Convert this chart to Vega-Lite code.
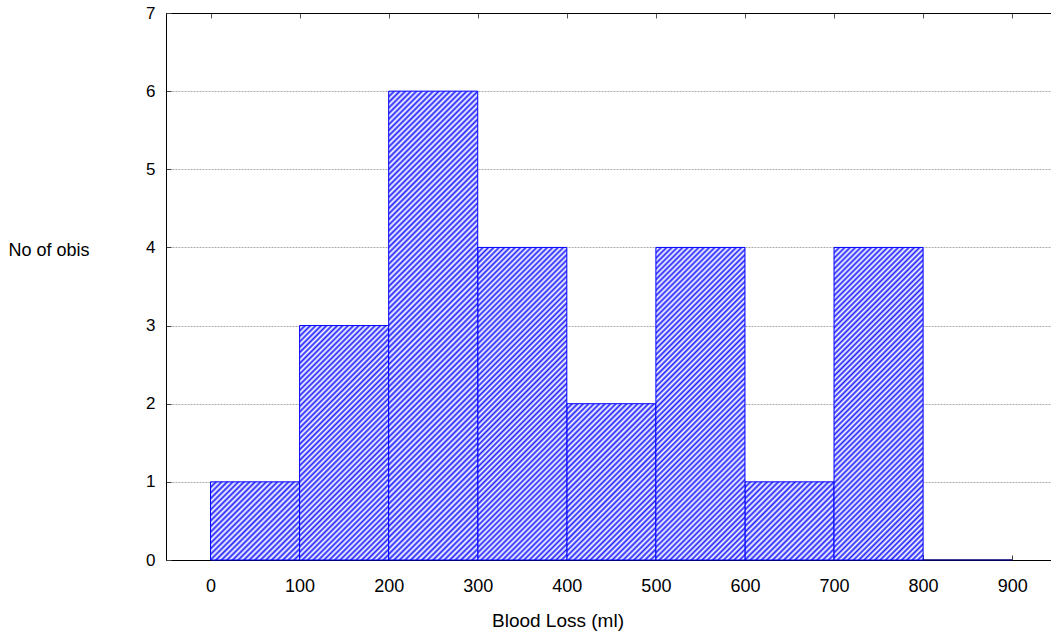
{
  "$schema": "https://vega.github.io/schema/vega-lite/v6.json",
  "autosize": "none",
  "width": 885,
  "height": 547,
  "padding": {"left": 166, "top": 13, "right": 0, "bottom": 76},
  "background": "white",
  "config": {"font": "Liberation Sans", "view": {"stroke": null}},
  "data": {"values": [
    {"start": 0, "end": 100, "count": 1},
    {"start": 100, "end": 200, "count": 3},
    {"start": 200, "end": 300, "count": 6},
    {"start": 300, "end": 400, "count": 4},
    {"start": 400, "end": 500, "count": 2},
    {"start": 500, "end": 600, "count": 4},
    {"start": 600, "end": 700, "count": 1},
    {"start": 700, "end": 800, "count": 4},
    {"start": 800, "end": 900, "count": 0}
  ]},
  "encoding": {
    "y": {"field": "count", "type": "quantitative", "scale": {"domain": [0, 7], "nice": false, "padding": 0},
      "axis": {"values": [0, 1, 2, 3, 4, 5, 6, 7], "grid": true, "gridColor": "#aaaaaa", "gridDash": [2, 1], "domainColor": "#000", "tickColor": "#444", "tickSize": -5, "labelPadding": 16, "labelFontSize": 17, "labelColor": "#000", "title": "No of obis", "titleAngle": 0, "titleAlign": "left", "titleBaseline": "middle", "titleX": -158, "titleY": 237, "titleFontSize": 18, "titleFontWeight": "normal", "titleColor": "#000"}},
    "y2": {"datum": 0}
  },
  "resolve": {"axis": {"x": "independent"}},
  "layer": [
    {
      "transform": [{"filter": "datum.count == 0"}],
      "mark": {"type": "bar", "fill": "#00007a", "stroke": "#00007a", "strokeWidth": 1.5},
      "encoding": {
        "x": {"field": "start", "type": "quantitative", "scale": {"domain": [-50, 943.6], "nice": false, "zero": false, "padding": 0},
          "axis": {"orient": "top", "values": [0, 100, 200, 300, 400, 500, 600, 700, 800, 900], "domainColor": "#000", "tickColor": "#555", "tickSize": -5, "labels": false, "title": null, "grid": false}},
        "x2": {"field": "end"}
      }
    },
    {
      "transform": [{"filter": "datum.count == 1"}],
      "mark": {"type": "bar", "stroke": "#00f", "strokeWidth": 1, "fill": {"gradient": "linear", "x1": 0, "y1": 0, "x2": 1.0608, "y2": 0.9307, "stops": [
        {"offset":0,"color":"#22f"},{"offset":0.017,"color":"#fff"},{"offset":0.033,"color":"#22f"},{"offset":0.05,"color":"#fff"},{"offset":0.067,"color":"#22f"},{"offset":0.083,"color":"#fff"},
        {"offset":0.1,"color":"#22f"},{"offset":0.117,"color":"#fff"},{"offset":0.133,"color":"#22f"},{"offset":0.15,"color":"#fff"},{"offset":0.167,"color":"#22f"},{"offset":0.183,"color":"#fff"},
        {"offset":0.2,"color":"#22f"},{"offset":0.217,"color":"#fff"},{"offset":0.233,"color":"#22f"},{"offset":0.25,"color":"#fff"},{"offset":0.267,"color":"#22f"},{"offset":0.283,"color":"#fff"},
        {"offset":0.3,"color":"#22f"},{"offset":0.317,"color":"#fff"},{"offset":0.333,"color":"#22f"},{"offset":0.35,"color":"#fff"},{"offset":0.367,"color":"#22f"},{"offset":0.383,"color":"#fff"},
        {"offset":0.4,"color":"#22f"},{"offset":0.417,"color":"#fff"},{"offset":0.433,"color":"#22f"},{"offset":0.45,"color":"#fff"},{"offset":0.467,"color":"#22f"},{"offset":0.483,"color":"#fff"},
        {"offset":0.5,"color":"#22f"},{"offset":0.517,"color":"#fff"},{"offset":0.533,"color":"#22f"},{"offset":0.55,"color":"#fff"},{"offset":0.567,"color":"#22f"},{"offset":0.583,"color":"#fff"},
        {"offset":0.6,"color":"#22f"},{"offset":0.617,"color":"#fff"},{"offset":0.633,"color":"#22f"},{"offset":0.65,"color":"#fff"},{"offset":0.667,"color":"#22f"},{"offset":0.683,"color":"#fff"},
        {"offset":0.7,"color":"#22f"},{"offset":0.717,"color":"#fff"},{"offset":0.733,"color":"#22f"},{"offset":0.75,"color":"#fff"},{"offset":0.767,"color":"#22f"},{"offset":0.783,"color":"#fff"},
        {"offset":0.8,"color":"#22f"},{"offset":0.817,"color":"#fff"},{"offset":0.833,"color":"#22f"},{"offset":0.85,"color":"#fff"},{"offset":0.867,"color":"#22f"},{"offset":0.883,"color":"#fff"},
        {"offset":0.9,"color":"#22f"},{"offset":0.917,"color":"#fff"},{"offset":0.933,"color":"#22f"},{"offset":0.95,"color":"#fff"},{"offset":0.967,"color":"#22f"},{"offset":0.983,"color":"#fff"},
        {"offset":1,"color":"#22f"}]}},
      "encoding": {
        "x": {"field": "start", "type": "quantitative", "scale": {"domain": [-50, 943.6], "nice": false, "zero": false, "padding": 0},
          "axis": {"orient": "bottom", "values": [0, 100, 200, 300, 400, 500, 600, 700, 800, 900], "domainColor": "#000", "tickColor": "#444", "tickSize": -5, "labelPadding": 36.5, "labelBaseline": "alphabetic", "labelFontSize": 18, "labelColor": "#000", "labelFlush": false, "labelOverlap": false, "grid": false, "title": "Blood Loss (ml)", "titleX": 391.5, "titleY": 66, "titleAlign": "center", "titleBaseline": "alphabetic", "titleFontSize": 19, "titleFontWeight": "normal", "titleColor": "#000"}},
        "x2": {"field": "end"}
      }
    },
    {
      "transform": [{"filter": "datum.count == 2"}],
      "mark": {"type": "bar", "stroke": "#00f", "strokeWidth": 1, "fill": {"gradient": "linear", "x1": 0, "y1": 0, "x2": 0.6754, "y2": 1.185, "stops": [
        {"offset":0,"color":"#22f"},{"offset":0.011,"color":"#fff"},{"offset":0.022,"color":"#22f"},{"offset":0.033,"color":"#fff"},{"offset":0.044,"color":"#22f"},{"offset":0.056,"color":"#fff"},{"offset":0.067,"color":"#22f"},{"offset":0.078,"color":"#fff"},{"offset":0.089,"color":"#22f"},
        {"offset":0.1,"color":"#fff"},{"offset":0.111,"color":"#22f"},{"offset":0.122,"color":"#fff"},{"offset":0.133,"color":"#22f"},{"offset":0.144,"color":"#fff"},{"offset":0.156,"color":"#22f"},{"offset":0.167,"color":"#fff"},{"offset":0.178,"color":"#22f"},{"offset":0.189,"color":"#fff"},
        {"offset":0.2,"color":"#22f"},{"offset":0.211,"color":"#fff"},{"offset":0.222,"color":"#22f"},{"offset":0.233,"color":"#fff"},{"offset":0.244,"color":"#22f"},{"offset":0.256,"color":"#fff"},{"offset":0.267,"color":"#22f"},{"offset":0.278,"color":"#fff"},{"offset":0.289,"color":"#22f"},
        {"offset":0.3,"color":"#fff"},{"offset":0.311,"color":"#22f"},{"offset":0.322,"color":"#fff"},{"offset":0.333,"color":"#22f"},{"offset":0.344,"color":"#fff"},{"offset":0.356,"color":"#22f"},{"offset":0.367,"color":"#fff"},{"offset":0.378,"color":"#22f"},{"offset":0.389,"color":"#fff"},
        {"offset":0.4,"color":"#22f"},{"offset":0.411,"color":"#fff"},{"offset":0.422,"color":"#22f"},{"offset":0.433,"color":"#fff"},{"offset":0.444,"color":"#22f"},{"offset":0.456,"color":"#fff"},{"offset":0.467,"color":"#22f"},{"offset":0.478,"color":"#fff"},{"offset":0.489,"color":"#22f"},
        {"offset":0.5,"color":"#fff"},{"offset":0.511,"color":"#22f"},{"offset":0.522,"color":"#fff"},{"offset":0.533,"color":"#22f"},{"offset":0.544,"color":"#fff"},{"offset":0.556,"color":"#22f"},{"offset":0.567,"color":"#fff"},{"offset":0.578,"color":"#22f"},{"offset":0.589,"color":"#fff"},
        {"offset":0.6,"color":"#22f"},{"offset":0.611,"color":"#fff"},{"offset":0.622,"color":"#22f"},{"offset":0.633,"color":"#fff"},{"offset":0.644,"color":"#22f"},{"offset":0.656,"color":"#fff"},{"offset":0.667,"color":"#22f"},{"offset":0.678,"color":"#fff"},{"offset":0.689,"color":"#22f"},
        {"offset":0.7,"color":"#fff"},{"offset":0.711,"color":"#22f"},{"offset":0.722,"color":"#fff"},{"offset":0.733,"color":"#22f"},{"offset":0.744,"color":"#fff"},{"offset":0.756,"color":"#22f"},{"offset":0.767,"color":"#fff"},{"offset":0.778,"color":"#22f"},{"offset":0.789,"color":"#fff"},
        {"offset":0.8,"color":"#22f"},{"offset":0.811,"color":"#fff"},{"offset":0.822,"color":"#22f"},{"offset":0.833,"color":"#fff"},{"offset":0.844,"color":"#22f"},{"offset":0.856,"color":"#fff"},{"offset":0.867,"color":"#22f"},{"offset":0.878,"color":"#fff"},{"offset":0.889,"color":"#22f"},
        {"offset":0.9,"color":"#fff"},{"offset":0.911,"color":"#22f"},{"offset":0.922,"color":"#fff"},{"offset":0.933,"color":"#22f"},{"offset":0.944,"color":"#fff"},{"offset":0.956,"color":"#22f"},{"offset":0.967,"color":"#fff"},{"offset":0.978,"color":"#22f"},{"offset":0.989,"color":"#fff"},
        {"offset":1,"color":"#22f"}]}},
      "encoding": {
        "x": {"field": "start", "type": "quantitative", "scale": {"domain": [-50, 943.6], "nice": false, "zero": false, "padding": 0}, "axis": null},
        "x2": {"field": "end"}
      }
    },
    {
      "transform": [{"filter": "datum.count == 3"}],
      "mark": {"type": "bar", "stroke": "#00f", "strokeWidth": 1, "fill": {"gradient": "linear", "x1": 0, "y1": 0, "x2": 0.4582, "y2": 1.2059, "stops": [
        {"offset":0,"color":"#22f"},{"offset":0.008,"color":"#fff"},{"offset":0.017,"color":"#22f"},{"offset":0.025,"color":"#fff"},{"offset":0.033,"color":"#22f"},{"offset":0.042,"color":"#fff"},{"offset":0.05,"color":"#22f"},{"offset":0.058,"color":"#fff"},{"offset":0.067,"color":"#22f"},{"offset":0.075,"color":"#fff"},{"offset":0.083,"color":"#22f"},{"offset":0.092,"color":"#fff"},
        {"offset":0.1,"color":"#22f"},{"offset":0.108,"color":"#fff"},{"offset":0.117,"color":"#22f"},{"offset":0.125,"color":"#fff"},{"offset":0.133,"color":"#22f"},{"offset":0.142,"color":"#fff"},{"offset":0.15,"color":"#22f"},{"offset":0.158,"color":"#fff"},{"offset":0.167,"color":"#22f"},{"offset":0.175,"color":"#fff"},{"offset":0.183,"color":"#22f"},{"offset":0.192,"color":"#fff"},
        {"offset":0.2,"color":"#22f"},{"offset":0.208,"color":"#fff"},{"offset":0.217,"color":"#22f"},{"offset":0.225,"color":"#fff"},{"offset":0.233,"color":"#22f"},{"offset":0.242,"color":"#fff"},{"offset":0.25,"color":"#22f"},{"offset":0.258,"color":"#fff"},{"offset":0.267,"color":"#22f"},{"offset":0.275,"color":"#fff"},{"offset":0.283,"color":"#22f"},{"offset":0.292,"color":"#fff"},
        {"offset":0.3,"color":"#22f"},{"offset":0.308,"color":"#fff"},{"offset":0.317,"color":"#22f"},{"offset":0.325,"color":"#fff"},{"offset":0.333,"color":"#22f"},{"offset":0.342,"color":"#fff"},{"offset":0.35,"color":"#22f"},{"offset":0.358,"color":"#fff"},{"offset":0.367,"color":"#22f"},{"offset":0.375,"color":"#fff"},{"offset":0.383,"color":"#22f"},{"offset":0.392,"color":"#fff"},
        {"offset":0.4,"color":"#22f"},{"offset":0.408,"color":"#fff"},{"offset":0.417,"color":"#22f"},{"offset":0.425,"color":"#fff"},{"offset":0.433,"color":"#22f"},{"offset":0.442,"color":"#fff"},{"offset":0.45,"color":"#22f"},{"offset":0.458,"color":"#fff"},{"offset":0.467,"color":"#22f"},{"offset":0.475,"color":"#fff"},{"offset":0.483,"color":"#22f"},{"offset":0.492,"color":"#fff"},
        {"offset":0.5,"color":"#22f"},{"offset":0.508,"color":"#fff"},{"offset":0.517,"color":"#22f"},{"offset":0.525,"color":"#fff"},{"offset":0.533,"color":"#22f"},{"offset":0.542,"color":"#fff"},{"offset":0.55,"color":"#22f"},{"offset":0.558,"color":"#fff"},{"offset":0.567,"color":"#22f"},{"offset":0.575,"color":"#fff"},{"offset":0.583,"color":"#22f"},{"offset":0.592,"color":"#fff"},
        {"offset":0.6,"color":"#22f"},{"offset":0.608,"color":"#fff"},{"offset":0.617,"color":"#22f"},{"offset":0.625,"color":"#fff"},{"offset":0.633,"color":"#22f"},{"offset":0.642,"color":"#fff"},{"offset":0.65,"color":"#22f"},{"offset":0.658,"color":"#fff"},{"offset":0.667,"color":"#22f"},{"offset":0.675,"color":"#fff"},{"offset":0.683,"color":"#22f"},{"offset":0.692,"color":"#fff"},
        {"offset":0.7,"color":"#22f"},{"offset":0.708,"color":"#fff"},{"offset":0.717,"color":"#22f"},{"offset":0.725,"color":"#fff"},{"offset":0.733,"color":"#22f"},{"offset":0.742,"color":"#fff"},{"offset":0.75,"color":"#22f"},{"offset":0.758,"color":"#fff"},{"offset":0.767,"color":"#22f"},{"offset":0.775,"color":"#fff"},{"offset":0.783,"color":"#22f"},{"offset":0.792,"color":"#fff"},
        {"offset":0.8,"color":"#22f"},{"offset":0.808,"color":"#fff"},{"offset":0.817,"color":"#22f"},{"offset":0.825,"color":"#fff"},{"offset":0.833,"color":"#22f"},{"offset":0.842,"color":"#fff"},{"offset":0.85,"color":"#22f"},{"offset":0.858,"color":"#fff"},{"offset":0.867,"color":"#22f"},{"offset":0.875,"color":"#fff"},{"offset":0.883,"color":"#22f"},{"offset":0.892,"color":"#fff"},
        {"offset":0.9,"color":"#22f"},{"offset":0.908,"color":"#fff"},{"offset":0.917,"color":"#22f"},{"offset":0.925,"color":"#fff"},{"offset":0.933,"color":"#22f"},{"offset":0.942,"color":"#fff"},{"offset":0.95,"color":"#22f"},{"offset":0.958,"color":"#fff"},{"offset":0.967,"color":"#22f"},{"offset":0.975,"color":"#fff"},{"offset":0.983,"color":"#22f"},{"offset":0.992,"color":"#fff"},
        {"offset":1,"color":"#22f"}]}},
      "encoding": {
        "x": {"field": "start", "type": "quantitative", "scale": {"domain": [-50, 943.6], "nice": false, "zero": false, "padding": 0}, "axis": null},
        "x2": {"field": "end"}
      }
    },
    {
      "transform": [{"filter": "datum.count == 4"}],
      "mark": {"type": "bar", "stroke": "#00f", "strokeWidth": 1, "fill": {"gradient": "linear", "x1": 0, "y1": 0, "x2": 0.3387, "y2": 1.1885, "stops": [
        {"offset":0,"color":"#22f"},{"offset":0.007,"color":"#fff"},{"offset":0.013,"color":"#22f"},{"offset":0.02,"color":"#fff"},{"offset":0.027,"color":"#22f"},{"offset":0.033,"color":"#fff"},{"offset":0.04,"color":"#22f"},{"offset":0.047,"color":"#fff"},{"offset":0.053,"color":"#22f"},{"offset":0.06,"color":"#fff"},{"offset":0.067,"color":"#22f"},{"offset":0.073,"color":"#fff"},{"offset":0.08,"color":"#22f"},{"offset":0.087,"color":"#fff"},{"offset":0.093,"color":"#22f"},
        {"offset":0.1,"color":"#fff"},{"offset":0.107,"color":"#22f"},{"offset":0.113,"color":"#fff"},{"offset":0.12,"color":"#22f"},{"offset":0.127,"color":"#fff"},{"offset":0.133,"color":"#22f"},{"offset":0.14,"color":"#fff"},{"offset":0.147,"color":"#22f"},{"offset":0.153,"color":"#fff"},{"offset":0.16,"color":"#22f"},{"offset":0.167,"color":"#fff"},{"offset":0.173,"color":"#22f"},{"offset":0.18,"color":"#fff"},{"offset":0.187,"color":"#22f"},{"offset":0.193,"color":"#fff"},
        {"offset":0.2,"color":"#22f"},{"offset":0.207,"color":"#fff"},{"offset":0.213,"color":"#22f"},{"offset":0.22,"color":"#fff"},{"offset":0.227,"color":"#22f"},{"offset":0.233,"color":"#fff"},{"offset":0.24,"color":"#22f"},{"offset":0.247,"color":"#fff"},{"offset":0.253,"color":"#22f"},{"offset":0.26,"color":"#fff"},{"offset":0.267,"color":"#22f"},{"offset":0.273,"color":"#fff"},{"offset":0.28,"color":"#22f"},{"offset":0.287,"color":"#fff"},{"offset":0.293,"color":"#22f"},
        {"offset":0.3,"color":"#fff"},{"offset":0.307,"color":"#22f"},{"offset":0.313,"color":"#fff"},{"offset":0.32,"color":"#22f"},{"offset":0.327,"color":"#fff"},{"offset":0.333,"color":"#22f"},{"offset":0.34,"color":"#fff"},{"offset":0.347,"color":"#22f"},{"offset":0.353,"color":"#fff"},{"offset":0.36,"color":"#22f"},{"offset":0.367,"color":"#fff"},{"offset":0.373,"color":"#22f"},{"offset":0.38,"color":"#fff"},{"offset":0.387,"color":"#22f"},{"offset":0.393,"color":"#fff"},
        {"offset":0.4,"color":"#22f"},{"offset":0.407,"color":"#fff"},{"offset":0.413,"color":"#22f"},{"offset":0.42,"color":"#fff"},{"offset":0.427,"color":"#22f"},{"offset":0.433,"color":"#fff"},{"offset":0.44,"color":"#22f"},{"offset":0.447,"color":"#fff"},{"offset":0.453,"color":"#22f"},{"offset":0.46,"color":"#fff"},{"offset":0.467,"color":"#22f"},{"offset":0.473,"color":"#fff"},{"offset":0.48,"color":"#22f"},{"offset":0.487,"color":"#fff"},{"offset":0.493,"color":"#22f"},
        {"offset":0.5,"color":"#fff"},{"offset":0.507,"color":"#22f"},{"offset":0.513,"color":"#fff"},{"offset":0.52,"color":"#22f"},{"offset":0.527,"color":"#fff"},{"offset":0.533,"color":"#22f"},{"offset":0.54,"color":"#fff"},{"offset":0.547,"color":"#22f"},{"offset":0.553,"color":"#fff"},{"offset":0.56,"color":"#22f"},{"offset":0.567,"color":"#fff"},{"offset":0.573,"color":"#22f"},{"offset":0.58,"color":"#fff"},{"offset":0.587,"color":"#22f"},{"offset":0.593,"color":"#fff"},
        {"offset":0.6,"color":"#22f"},{"offset":0.607,"color":"#fff"},{"offset":0.613,"color":"#22f"},{"offset":0.62,"color":"#fff"},{"offset":0.627,"color":"#22f"},{"offset":0.633,"color":"#fff"},{"offset":0.64,"color":"#22f"},{"offset":0.647,"color":"#fff"},{"offset":0.653,"color":"#22f"},{"offset":0.66,"color":"#fff"},{"offset":0.667,"color":"#22f"},{"offset":0.673,"color":"#fff"},{"offset":0.68,"color":"#22f"},{"offset":0.687,"color":"#fff"},{"offset":0.693,"color":"#22f"},
        {"offset":0.7,"color":"#fff"},{"offset":0.707,"color":"#22f"},{"offset":0.713,"color":"#fff"},{"offset":0.72,"color":"#22f"},{"offset":0.727,"color":"#fff"},{"offset":0.733,"color":"#22f"},{"offset":0.74,"color":"#fff"},{"offset":0.747,"color":"#22f"},{"offset":0.753,"color":"#fff"},{"offset":0.76,"color":"#22f"},{"offset":0.767,"color":"#fff"},{"offset":0.773,"color":"#22f"},{"offset":0.78,"color":"#fff"},{"offset":0.787,"color":"#22f"},{"offset":0.793,"color":"#fff"},
        {"offset":0.8,"color":"#22f"},{"offset":0.807,"color":"#fff"},{"offset":0.813,"color":"#22f"},{"offset":0.82,"color":"#fff"},{"offset":0.827,"color":"#22f"},{"offset":0.833,"color":"#fff"},{"offset":0.84,"color":"#22f"},{"offset":0.847,"color":"#fff"},{"offset":0.853,"color":"#22f"},{"offset":0.86,"color":"#fff"},{"offset":0.867,"color":"#22f"},{"offset":0.873,"color":"#fff"},{"offset":0.88,"color":"#22f"},{"offset":0.887,"color":"#fff"},{"offset":0.893,"color":"#22f"},
        {"offset":0.9,"color":"#fff"},{"offset":0.907,"color":"#22f"},{"offset":0.913,"color":"#fff"},{"offset":0.92,"color":"#22f"},{"offset":0.927,"color":"#fff"},{"offset":0.933,"color":"#22f"},{"offset":0.94,"color":"#fff"},{"offset":0.947,"color":"#22f"},{"offset":0.953,"color":"#fff"},{"offset":0.96,"color":"#22f"},{"offset":0.967,"color":"#fff"},{"offset":0.973,"color":"#22f"},{"offset":0.98,"color":"#fff"},{"offset":0.987,"color":"#22f"},{"offset":0.993,"color":"#fff"},
        {"offset":1,"color":"#22f"}]}},
      "encoding": {
        "x": {"field": "start", "type": "quantitative", "scale": {"domain": [-50, 943.6], "nice": false, "zero": false, "padding": 0}, "axis": null},
        "x2": {"field": "end"}
      }
    },
    {
      "transform": [{"filter": "datum.count == 6"}],
      "mark": {"type": "bar", "stroke": "#00f", "strokeWidth": 1, "fill": {"gradient": "linear", "x1": 0, "y1": 0, "x2": 0.2182, "y2": 1.1485, "stops": [
        {"offset":0,"color":"#22f"},{"offset":0.005,"color":"#fff"},{"offset":0.01,"color":"#22f"},{"offset":0.015,"color":"#fff"},{"offset":0.02,"color":"#22f"},{"offset":0.025,"color":"#fff"},{"offset":0.03,"color":"#22f"},{"offset":0.035,"color":"#fff"},{"offset":0.04,"color":"#22f"},{"offset":0.045,"color":"#fff"},{"offset":0.05,"color":"#22f"},{"offset":0.055,"color":"#fff"},{"offset":0.06,"color":"#22f"},{"offset":0.065,"color":"#fff"},{"offset":0.07,"color":"#22f"},{"offset":0.075,"color":"#fff"},{"offset":0.08,"color":"#22f"},{"offset":0.085,"color":"#fff"},{"offset":0.09,"color":"#22f"},{"offset":0.095,"color":"#fff"},
        {"offset":0.1,"color":"#22f"},{"offset":0.105,"color":"#fff"},{"offset":0.11,"color":"#22f"},{"offset":0.115,"color":"#fff"},{"offset":0.12,"color":"#22f"},{"offset":0.125,"color":"#fff"},{"offset":0.13,"color":"#22f"},{"offset":0.135,"color":"#fff"},{"offset":0.14,"color":"#22f"},{"offset":0.145,"color":"#fff"},{"offset":0.15,"color":"#22f"},{"offset":0.155,"color":"#fff"},{"offset":0.16,"color":"#22f"},{"offset":0.165,"color":"#fff"},{"offset":0.17,"color":"#22f"},{"offset":0.175,"color":"#fff"},{"offset":0.18,"color":"#22f"},{"offset":0.185,"color":"#fff"},{"offset":0.19,"color":"#22f"},{"offset":0.195,"color":"#fff"},
        {"offset":0.2,"color":"#22f"},{"offset":0.205,"color":"#fff"},{"offset":0.21,"color":"#22f"},{"offset":0.215,"color":"#fff"},{"offset":0.22,"color":"#22f"},{"offset":0.225,"color":"#fff"},{"offset":0.23,"color":"#22f"},{"offset":0.235,"color":"#fff"},{"offset":0.24,"color":"#22f"},{"offset":0.245,"color":"#fff"},{"offset":0.25,"color":"#22f"},{"offset":0.255,"color":"#fff"},{"offset":0.26,"color":"#22f"},{"offset":0.265,"color":"#fff"},{"offset":0.27,"color":"#22f"},{"offset":0.275,"color":"#fff"},{"offset":0.28,"color":"#22f"},{"offset":0.285,"color":"#fff"},{"offset":0.29,"color":"#22f"},{"offset":0.295,"color":"#fff"},
        {"offset":0.3,"color":"#22f"},{"offset":0.305,"color":"#fff"},{"offset":0.31,"color":"#22f"},{"offset":0.315,"color":"#fff"},{"offset":0.32,"color":"#22f"},{"offset":0.325,"color":"#fff"},{"offset":0.33,"color":"#22f"},{"offset":0.335,"color":"#fff"},{"offset":0.34,"color":"#22f"},{"offset":0.345,"color":"#fff"},{"offset":0.35,"color":"#22f"},{"offset":0.355,"color":"#fff"},{"offset":0.36,"color":"#22f"},{"offset":0.365,"color":"#fff"},{"offset":0.37,"color":"#22f"},{"offset":0.375,"color":"#fff"},{"offset":0.38,"color":"#22f"},{"offset":0.385,"color":"#fff"},{"offset":0.39,"color":"#22f"},{"offset":0.395,"color":"#fff"},
        {"offset":0.4,"color":"#22f"},{"offset":0.405,"color":"#fff"},{"offset":0.41,"color":"#22f"},{"offset":0.415,"color":"#fff"},{"offset":0.42,"color":"#22f"},{"offset":0.425,"color":"#fff"},{"offset":0.43,"color":"#22f"},{"offset":0.435,"color":"#fff"},{"offset":0.44,"color":"#22f"},{"offset":0.445,"color":"#fff"},{"offset":0.45,"color":"#22f"},{"offset":0.455,"color":"#fff"},{"offset":0.46,"color":"#22f"},{"offset":0.465,"color":"#fff"},{"offset":0.47,"color":"#22f"},{"offset":0.475,"color":"#fff"},{"offset":0.48,"color":"#22f"},{"offset":0.485,"color":"#fff"},{"offset":0.49,"color":"#22f"},{"offset":0.495,"color":"#fff"},
        {"offset":0.5,"color":"#22f"},{"offset":0.505,"color":"#fff"},{"offset":0.51,"color":"#22f"},{"offset":0.515,"color":"#fff"},{"offset":0.52,"color":"#22f"},{"offset":0.525,"color":"#fff"},{"offset":0.53,"color":"#22f"},{"offset":0.535,"color":"#fff"},{"offset":0.54,"color":"#22f"},{"offset":0.545,"color":"#fff"},{"offset":0.55,"color":"#22f"},{"offset":0.555,"color":"#fff"},{"offset":0.56,"color":"#22f"},{"offset":0.565,"color":"#fff"},{"offset":0.57,"color":"#22f"},{"offset":0.575,"color":"#fff"},{"offset":0.58,"color":"#22f"},{"offset":0.585,"color":"#fff"},{"offset":0.59,"color":"#22f"},{"offset":0.595,"color":"#fff"},
        {"offset":0.6,"color":"#22f"},{"offset":0.605,"color":"#fff"},{"offset":0.61,"color":"#22f"},{"offset":0.615,"color":"#fff"},{"offset":0.62,"color":"#22f"},{"offset":0.625,"color":"#fff"},{"offset":0.63,"color":"#22f"},{"offset":0.635,"color":"#fff"},{"offset":0.64,"color":"#22f"},{"offset":0.645,"color":"#fff"},{"offset":0.65,"color":"#22f"},{"offset":0.655,"color":"#fff"},{"offset":0.66,"color":"#22f"},{"offset":0.665,"color":"#fff"},{"offset":0.67,"color":"#22f"},{"offset":0.675,"color":"#fff"},{"offset":0.68,"color":"#22f"},{"offset":0.685,"color":"#fff"},{"offset":0.69,"color":"#22f"},{"offset":0.695,"color":"#fff"},
        {"offset":0.7,"color":"#22f"},{"offset":0.705,"color":"#fff"},{"offset":0.71,"color":"#22f"},{"offset":0.715,"color":"#fff"},{"offset":0.72,"color":"#22f"},{"offset":0.725,"color":"#fff"},{"offset":0.73,"color":"#22f"},{"offset":0.735,"color":"#fff"},{"offset":0.74,"color":"#22f"},{"offset":0.745,"color":"#fff"},{"offset":0.75,"color":"#22f"},{"offset":0.755,"color":"#fff"},{"offset":0.76,"color":"#22f"},{"offset":0.765,"color":"#fff"},{"offset":0.77,"color":"#22f"},{"offset":0.775,"color":"#fff"},{"offset":0.78,"color":"#22f"},{"offset":0.785,"color":"#fff"},{"offset":0.79,"color":"#22f"},{"offset":0.795,"color":"#fff"},
        {"offset":0.8,"color":"#22f"},{"offset":0.805,"color":"#fff"},{"offset":0.81,"color":"#22f"},{"offset":0.815,"color":"#fff"},{"offset":0.82,"color":"#22f"},{"offset":0.825,"color":"#fff"},{"offset":0.83,"color":"#22f"},{"offset":0.835,"color":"#fff"},{"offset":0.84,"color":"#22f"},{"offset":0.845,"color":"#fff"},{"offset":0.85,"color":"#22f"},{"offset":0.855,"color":"#fff"},{"offset":0.86,"color":"#22f"},{"offset":0.865,"color":"#fff"},{"offset":0.87,"color":"#22f"},{"offset":0.875,"color":"#fff"},{"offset":0.88,"color":"#22f"},{"offset":0.885,"color":"#fff"},{"offset":0.89,"color":"#22f"},{"offset":0.895,"color":"#fff"},
        {"offset":0.9,"color":"#22f"},{"offset":0.905,"color":"#fff"},{"offset":0.91,"color":"#22f"},{"offset":0.915,"color":"#fff"},{"offset":0.92,"color":"#22f"},{"offset":0.925,"color":"#fff"},{"offset":0.93,"color":"#22f"},{"offset":0.935,"color":"#fff"},{"offset":0.94,"color":"#22f"},{"offset":0.945,"color":"#fff"},{"offset":0.95,"color":"#22f"},{"offset":0.955,"color":"#fff"},{"offset":0.96,"color":"#22f"},{"offset":0.965,"color":"#fff"},{"offset":0.97,"color":"#22f"},{"offset":0.975,"color":"#fff"},{"offset":0.98,"color":"#22f"},{"offset":0.985,"color":"#fff"},{"offset":0.99,"color":"#22f"},{"offset":0.995,"color":"#fff"},
        {"offset":1,"color":"#22f"}]}},
      "encoding": {
        "x": {"field": "start", "type": "quantitative", "scale": {"domain": [-50, 943.6], "nice": false, "zero": false, "padding": 0}, "axis": null},
        "x2": {"field": "end"}
      }
    }
  ]
}
